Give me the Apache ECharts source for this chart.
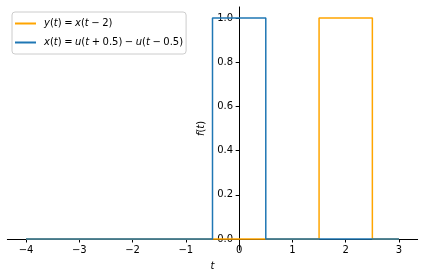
<!DOCTYPE html>
<html>
<head>
<meta charset="utf-8">
<script src="https://cdn.jsdelivr.net/npm/echarts@6/dist/echarts.min.js"></script>
<style>
html,body{margin:0;padding:0;background:#fff;}
#chart{width:424px;height:279px;}
</style>
</head>
<body>
<div id="chart"></div>
<script>
// Data
const tY = [-4, 1.5, 1.5, 2.5, 2.5, 3];
const yVals = [0, 0, 1, 1, 0, 0];
const tX = [-4, -0.5, -0.5, 0.5, 0.5, 3];
const xVals = [0, 0, 1, 1, 0, 0];
const xTicks = [-4, -3, -2, -1, 0, 1, 2, 3];
const yTicks = [0, 0.2, 0.4, 0.6, 0.8, 1.0];
const seriesNames = ['y(t) = x(t − 2)', 'x(t) = u(t + 0.5) − u(t − 0.5)'];
const S = '\u2005';
const legendRich = {};
legendRich[seriesNames[0]] = '{sp| }{i|y}({i|t})' + S + '=' + S + '{i|x}({i|t}' + S + '−' + S + '2)';
legendRich[seriesNames[1]] = '{sp| }{i|x}({i|t})' + S + '=' + S + '{i|u}({i|t}' + S + '+' + S + '0.5)' + S + '−' + S + '{i|u}({i|t}' + S + '−' + S + '0.5)';

function pairs(ts, vs){ return ts.map((t,i)=>[t, vs[i]]); }

const font = 'DejaVu Sans';
const W = 424, H = 279;
const gridL = 7.35, gridR = 6.35, gridT = 6.95, gridB = 28.95;
const xMin = -4.35, xMax = 3.35, yMin = -0.05, yMax = 1.05;
const pxZeroX = gridL + (0 - xMin) / (xMax - xMin) * (W - gridL - gridR);
const pxZeroY = gridT + (yMax - 0) / (yMax - yMin) * (H - gridT - gridB);
const italic = {fontFamily: font, fontStyle: 'italic', fontSize: 10, color: '#000'};

const chart = echarts.init(document.getElementById('chart'), null, {renderer:'canvas'});
chart.setOption({
  animation: false,
  textStyle: {fontFamily: font},
  grid: {left: gridL, right: gridR, top: gridT, bottom: gridB, containLabel: false, outerBoundsMode: 'none'},
  legend: {
    orient: 'vertical', left: 12, top: 12,
    padding: [5, 3, 5, 3], itemGap: 6,
    itemWidth: 21, itemHeight: 2,
    borderColor: '#cccccc', borderWidth: 1, borderRadius: 3,
    backgroundColor: 'rgba(255,255,255,0.8)',
    data: seriesNames.map(n => ({name: n, icon: 'rect'})),
    formatter: n => legendRich[n],
    textStyle: {
      fontFamily: font, fontSize: 10, color: '#000', lineHeight: 13,
      rich: {i: italic, sp: {width: 3, fontSize: 10}}
    }
  },
  xAxis: {
    type: 'value', min: xMin, max: xMax, position: 'bottom',
    offset: -(H - gridB - pxZeroY),
    name: '{i|t}', nameLocation: 'middle', nameGap: 22,
    nameTextStyle: {fontFamily: font, fontSize: 10, color: '#000', rich: {i: italic}},
    axisLine: {onZero: false, lineStyle: {color: '#000', width: 1}},
    axisTick: {show: true, length: 3.5, customValues: xTicks, lineStyle: {color: '#000'}},
    axisLabel: {customValues: xTicks, margin: 6, fontFamily: font, fontSize: 10, color: '#000',
      formatter: v => String(v).replace('-', '−')},
    splitLine: {show: false}
  },
  yAxis: {
    type: 'value', min: yMin, max: yMax, position: 'left',
    offset: -(pxZeroX - gridL),
    name: '{i|f}({i|t})', nameLocation: 'middle', nameGap: 21, nameRotate: 90,
    nameTextStyle: {fontFamily: font, fontSize: 10, color: '#000', rich: {i: italic}},
    axisLine: {show: true, onZero: false, lineStyle: {color: '#000', width: 1}},
    axisTick: {show: true, length: 3.5, customValues: yTicks, lineStyle: {color: '#000'}},
    axisLabel: {customValues: yTicks, margin: 6, fontFamily: font, fontSize: 10, color: '#000',
      formatter: v => v.toFixed(1)},
    splitLine: {show: false}
  },
  series: [
    {name: seriesNames[0], type: 'line', data: pairs(tY, yVals), showSymbol: false,
     lineStyle: {color: '#ffa500', width: 1.5}, itemStyle: {color: '#ffa500'}, z: 2},
    {name: seriesNames[1], type: 'line', data: pairs(tX, xVals), showSymbol: false,
     lineStyle: {color: '#1f77b4', width: 1.5}, itemStyle: {color: '#1f77b4'}, z: 3}
  ]
});
</script>
</body>
</html>
